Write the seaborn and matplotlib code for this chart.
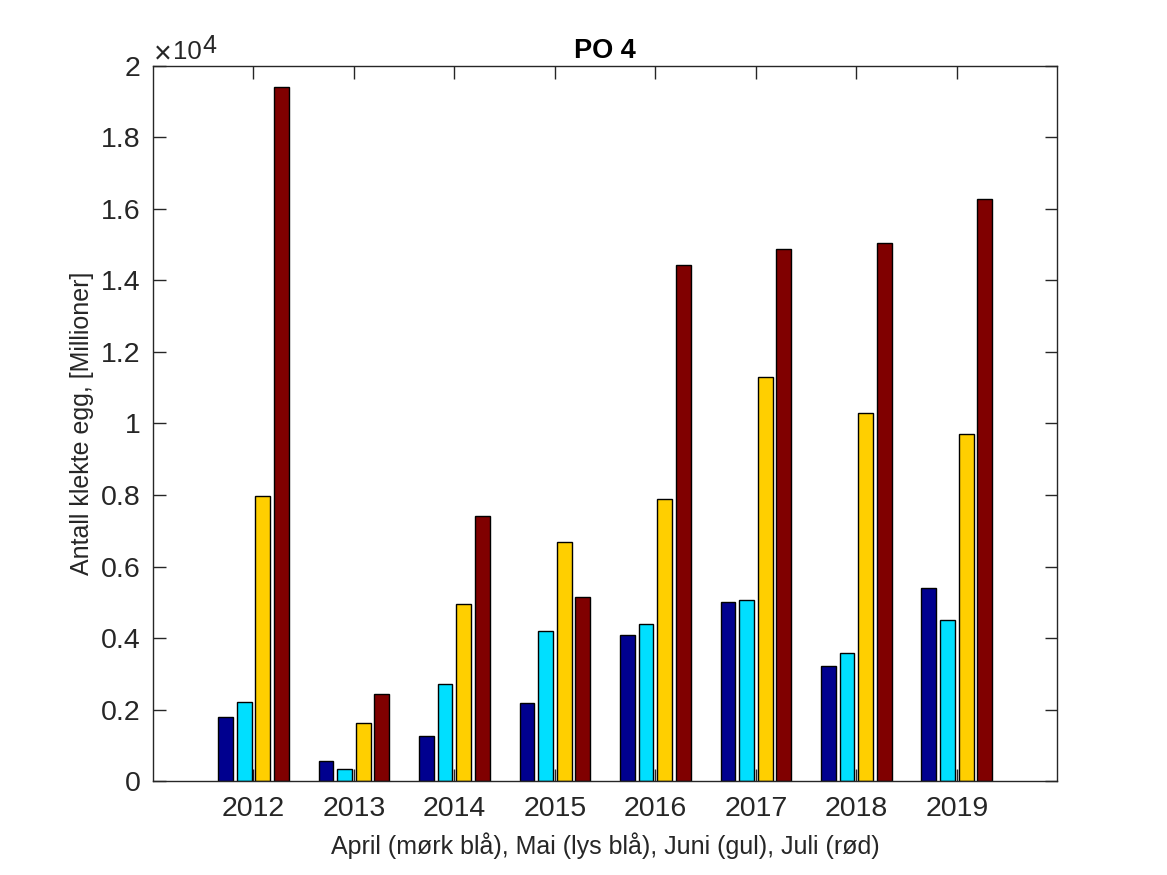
import matplotlib
matplotlib.use("Agg")
import matplotlib.pyplot as plt
import pandas as pd
import seaborn as sns
from matplotlib.ticker import FuncFormatter, MultipleLocator
from matplotlib.transforms import offset_copy

years = ["2012", "2013", "2014", "2015", "2016", "2017", "2018", "2019"]
months = ["April", "Mai", "Juni", "Juli"]
april = [1780, 550, 1250, 2170, 4080, 5000, 3210, 5390]
mai = [2200, 330, 2700, 4190, 4380, 5050, 3570, 4490]
juni = [7970, 1610, 4940, 6680, 7880, 11290, 10290, 9700]
juli = [19400, 2430, 7410, 5140, 14430, 14870, 15040, 16270]
colors = ["#00008f", "#00dfff", "#ffcf00", "#800000"]

df = pd.DataFrame({"year": years * 4,
                   "month": [m for m in months for _ in years],
                   "value": april + mai + juni + juli})

sns.set_theme(style="white")
plt.rcParams["font.family"] = ["Liberation Sans", "DejaVu Sans"]
ink = "#262626"

fig = plt.figure(figsize=(11.67, 8.75), dpi=100)
ax = fig.add_axes([0.131, 0.1074, 0.775, 0.8172])
sns.barplot(df, x="year", y="value", hue="month", order=years, hue_order=months,
            palette=dict(zip(months, colors)), width=0.74, gap=0.2,
            edgecolor="black", linewidth=1.0, saturation=1, legend=False, ax=ax)

ax.set_xlim(-1, 8)
ax.set_ylim(0, 20000)
ax.yaxis.set_major_locator(MultipleLocator(2000))
ax.yaxis.set_major_formatter(FuncFormatter(lambda v, p: f"{v / 1e4:g}"))
ax.tick_params(direction="in", length=9, width=1, colors=ink, labelsize=20.5,
               top=True, right=True, bottom=True, left=True)
ax.tick_params(axis="x", pad=11)
ax.tick_params(axis="y", pad=9)
for s in ax.spines.values():
    s.set_color(ink)
    s.set_linewidth(1)

# exponent label like MATLAB's "x10^4": pieces placed one after another (pixels)
fig.canvas.draw()
x_px = 1
for piece, size, rise in [("×", 22, 3), ("10", 18.5, 7), ("4", 18, 13)]:
    t = ax.text(0.0, 1.0, piece, fontsize=size, color=ink, ha="left", va="baseline",
                transform=offset_copy(ax.transAxes, fig=fig, x=x_px, y=rise, units="dots"))
    x_px = t.get_window_extent().x1 - ax.get_window_extent().x0 + 1

ax.set_title("PO 4", fontsize=19.5, fontweight="bold", color="black", pad=6)
ax.set_xlabel("April (mørk blå), Mai (lys blå), Juni (gul), Juli (rød)",
              fontsize=18, color=ink, labelpad=7)
ax.set_ylabel("Antall klekte egg, [Millioner]", fontsize=18, color=ink, labelpad=5)

fig.savefig("out.png", dpi=100)
